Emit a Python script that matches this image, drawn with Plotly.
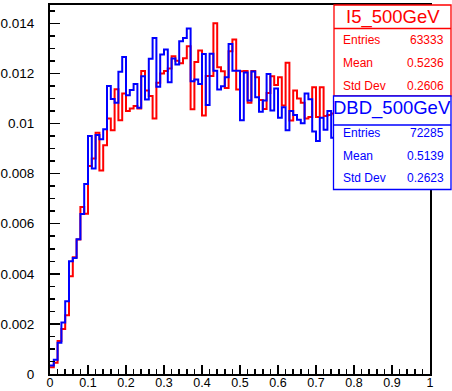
import numpy as np
import plotly.graph_objects as go

# ---------------- data ----------------
n_bins = 100
x_min, x_max = 0.0, 1.0

i5_values = [
    0.00027, 0.00045, 0.00132, 0.0018, 0.00235, 0.0039, 0.00466, 0.00537, 0.00667, 0.0064,
    0.0083, 0.0086, 0.00963, 0.00812, 0.00913, 0.0102, 0.00973, 0.01137, 0.01013, 0.0112,
    0.0105, 0.0106, 0.0107, 0.0106, 0.0121, 0.01132, 0.0111, 0.0102, 0.01163, 0.0120,
    0.0121, 0.0122, 0.01268, 0.0125, 0.0124, 0.0126, 0.01308, 0.01057, 0.01245, 0.01291,
    0.01032, 0.0119, 0.0119, 0.0140, 0.01225, 0.01209, 0.01142, 0.01288, 0.01335, 0.01136,
    0.01209, 0.0121, 0.01083, 0.0121, 0.01185, 0.01094, 0.01058, 0.01122, 0.01189, 0.01154,
    0.01185, 0.01072, 0.01242, 0.01012, 0.01132, 0.0110, 0.01083, 0.0102, 0.01026, 0.01145,
    0.01026, 0.01145, 0.0103, 0.01034, 0.0104, 0.0105, 0.0101, 0.0104, 0.0099, 0.0102,
    0.0098, 0.0100, 0.0096, 0.0099, 0.0095, 0.0097, 0.0093, 0.0095, 0.0091, 0.0093,
    0.0090, 0.0092, 0.0088, 0.0090, 0.0087, 0.0088, 0.0085, 0.0087, 0.0084, 0.0083,
]

dbd_values = [
    0.00034, 0.00057, 0.00125, 0.00206, 0.0029, 0.0045, 0.00463, 0.00538, 0.00639, 0.00758,
    0.0095, 0.0082, 0.00954, 0.00937, 0.00977, 0.0115, 0.01098, 0.01083, 0.01207, 0.01265,
    0.01113, 0.01134, 0.01158, 0.01063, 0.01189, 0.01096, 0.01258, 0.01341, 0.01147, 0.01275,
    0.01295, 0.01165, 0.01259, 0.01235, 0.01328, 0.01341, 0.01379, 0.01169, 0.01176, 0.01158,
    0.01277, 0.01074, 0.01278, 0.01211, 0.01136, 0.01149, 0.01185, 0.01317, 0.01211, 0.01211,
    0.01013, 0.01204, 0.01092, 0.01208, 0.01105, 0.01047, 0.01092, 0.01198, 0.01052, 0.0114,
    0.01023, 0.01065, 0.00973, 0.0105, 0.01034, 0.01015, 0.01001, 0.0112, 0.01097, 0.00968,
    0.0093, 0.01023, 0.00975, 0.0105, 0.00943, 0.0101, 0.0097, 0.0099, 0.0095, 0.0098,
    0.0094, 0.0096, 0.0092, 0.0095, 0.0091, 0.0093, 0.0090, 0.0092, 0.0088, 0.0090,
    0.0087, 0.0089, 0.0086, 0.0087, 0.0085, 0.0086, 0.0083, 0.0084, 0.0082, 0.0081,
]

x_tick_vals = [0, 0.1, 0.2, 0.3, 0.4, 0.5, 0.6, 0.7, 0.8, 0.9, 1.0]
x_tick_text = ["0", "0.1", "0.2", "0.3", "0.4", "0.5", "0.6", "0.7", "0.8", "0.9", "1"]
y_tick_vals = [0, 0.002, 0.004, 0.006, 0.008, 0.010, 0.012, 0.014]
y_tick_text = ["0", "0.002", "0.004", "0.006", "0.008", "0.01", "0.012", "0.014"]

stat_names = ["Entries", "Mean", "Std Dev"]
i5_title = "I5_500GeV"
i5_stats = ["63333", "0.5236", "0.2606"]
dbd_title = "DBD_500GeV"
dbd_stats = ["72285", "0.5139", "0.2623"]

# ---------------- figure ----------------
W, H = 452, 391
L, R, T, B = 50, 22, 5, 17
FONT = "Liberation Sans, Arial, Helvetica, sans-serif"
RED = "#ff0000"
BLUE = "#0000ff"

edges = np.linspace(x_min, x_max, n_bins + 1)


def step_y(vals):
    return list(vals) + [vals[-1]]


fig = go.Figure()
fig.add_trace(go.Scatter(x=edges, y=step_y(i5_values), mode="lines",
                         line=dict(color=RED, width=2, shape="hv"),
                         showlegend=False, hoverinfo="skip"))
fig.add_trace(go.Scatter(x=edges, y=step_y(dbd_values), mode="lines",
                         line=dict(color=BLUE, width=2, shape="hv"),
                         showlegend=False, hoverinfo="skip"))


def PX(px):
    return (px - L) / (W - L - R)


def PY(py):
    return (H - B - py) / (H - T - B)


shapes = []
annotations = []


def stat_box(x0, x1, y0, y1, ysep, color, title, values, title_y, row_ys):
    shapes.append(dict(type="rect", xref="paper", yref="paper",
                       x0=PX(x0), x1=PX(x1), y0=PY(y1), y1=PY(y0),
                       line=dict(color=color, width=1.3), fillcolor="white",
                       layer="above"))
    shapes.append(dict(type="line", xref="paper", yref="paper",
                       x0=PX(x0), x1=PX(x1), y0=PY(ysep), y1=PY(ysep),
                       line=dict(color=color, width=1.3), layer="above"))
    annotations.append(dict(text=title, xref="paper", yref="paper",
                            x=PX((x0 + x1) / 2), y=PY(title_y),
                            xanchor="center", yanchor="middle", showarrow=False,
                            font=dict(family=FONT, size=18.5, color=color)))
    for name, val, ry in zip(stat_names, values, row_ys):
        annotations.append(dict(text=name, xref="paper", yref="paper",
                                x=PX(x0 + 7), y=PY(ry), xanchor="left", yanchor="middle",
                                showarrow=False, font=dict(family=FONT, size=12, color=color)))
        annotations.append(dict(text=val, xref="paper", yref="paper",
                                x=PX(x1 - 5), y=PY(ry), xanchor="right", yanchor="middle",
                                showarrow=False, font=dict(family=FONT, size=12, color=color)))


stat_box(334, 451, 5, 96, 28.5, RED, i5_title, i5_stats, 17, [40, 63, 85.5])
stat_box(333.5, 451, 96, 189.5, 125, BLUE, dbd_title, dbd_stats, 108, [132.5, 155.5, 177.5])

axis_common = dict(showline=True, linecolor="black", linewidth=2, mirror=True,
                   showgrid=False, zeroline=False, ticks="inside", tickcolor="black",
                   tickwidth=1.5, automargin=False)

fig.update_layout(
    width=W, height=H,
    margin=dict(l=L, r=R, t=T, b=B, pad=0, autoexpand=False),
    paper_bgcolor="white", plot_bgcolor="white",
    shapes=shapes, annotations=annotations,
    xaxis=dict(range=[x_min, x_max], tickvals=x_tick_vals, ticktext=x_tick_text,
               ticklen=9, ticklabelstandoff=-4,
               tickfont=dict(family=FONT, size=12.5, color="black"),
               minor=dict(ticks="inside", ticklen=5, dtick=0.02, tickcolor="black", tickwidth=1.5),
               **axis_common),
    yaxis=dict(range=[0, 0.01473], tickvals=y_tick_vals, ticktext=y_tick_text,
               ticklen=10, ticklabelstandoff=11,
               tickfont=dict(family=FONT, size=13.5, color="black"),
               minor=dict(ticks="inside", ticklen=5, dtick=0.0005, tickcolor="black", tickwidth=1.5),
               **axis_common),
)

fig.write_html("out.html",
               config={"displayModeBar": False, "staticPlot": True},
               post_script="document.body.style.margin='0';document.body.style.overflow='hidden';")
